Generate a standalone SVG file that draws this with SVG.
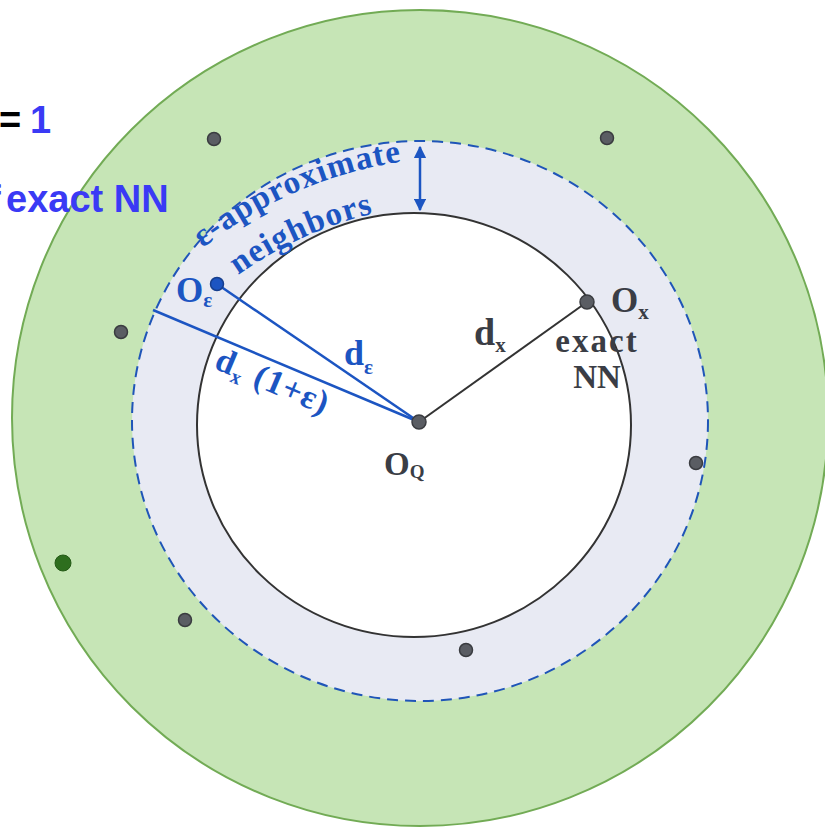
<svg xmlns="http://www.w3.org/2000/svg" width="825" height="827" viewBox="0 0 825 827">
<style>
.dot{fill:#5a5d63;stroke:#3a3c40;stroke-width:1.5}
.serif{font-family:"Liberation Serif","DejaVu Serif",serif;font-weight:bold}
.blue{fill:#1c55c2}
.gray{fill:#3a3d45}
.head{font-family:"Liberation Sans",Arial,sans-serif;font-weight:bold;font-size:38px}
</style>
<defs>
<marker id="ah" viewBox="0 0 10 10" refX="9" refY="5" markerWidth="5" markerHeight="5" orient="auto-start-reverse" markerUnits="strokeWidth">
<path d="M0,0 L10,5 L0,10 z" fill="#1c55c2"/>
</marker>
<path id="arc1" d="M 203 248 A 420 420 0 0 1 414 160"/>
<path id="arc2" d="M 238 275 A 400 400 0 0 1 388 210"/>
</defs>
<rect width="825" height="827" fill="#ffffff"/>
<g id="outer">
<circle cx="420" cy="418" r="408" fill="#c6e5b6" stroke="#72ab55" stroke-width="2"/>
</g>
<g id="band">
<ellipse cx="420" cy="421" rx="288" ry="280" fill="#e8eaf3" stroke="#1f55b8" stroke-width="2" stroke-dasharray="11,7"/>
</g>
<g id="inner">
<ellipse cx="414" cy="425" rx="217" ry="212" fill="#ffffff" stroke="#333333" stroke-width="2"/>
</g>
<g id="connectors">
<line x1="217" y1="284" x2="419" y2="422" stroke="#1c55c2" stroke-width="2.5"/>
<line x1="153" y1="310" x2="419" y2="422" stroke="#1c55c2" stroke-width="2.5"/>
<line x1="419" y1="422" x2="587" y2="302" stroke="#333333" stroke-width="2"/>
<line x1="420" y1="147" x2="420" y2="210" stroke="#1c55c2" stroke-width="2.5" marker-start="url(#ah)" marker-end="url(#ah)"/>
</g>
<g id="points">
<circle class="dot" cx="214" cy="139" r="6.5"/>
<circle class="dot" cx="607" cy="138" r="6.5"/>
<circle class="dot" cx="121" cy="332" r="6.5"/>
<circle class="dot" cx="696" cy="463" r="6.5"/>
<circle class="dot" cx="185" cy="620" r="6.5"/>
<circle class="dot" cx="466" cy="650" r="6.5"/>
<circle cx="63" cy="563" r="8" fill="#2e6e1e" stroke="#245a16" stroke-width="1"/>
</g>
<g id="node-oq">
<circle class="dot" cx="419" cy="422" r="7"/>
<text class="serif gray" x="384" y="475" font-size="33">O<tspan font-size="19" dy="3">Q</tspan></text>
</g>
<g id="node-ox">
<circle class="dot" cx="587" cy="302" r="7"/>
<text class="serif gray" x="611" y="312" font-size="35">O<tspan font-size="21" dy="7">x</tspan></text>
<text class="serif gray" x="597" y="352" font-size="33" letter-spacing="2" text-anchor="middle">exact</text>
<text class="serif gray" x="597" y="388" font-size="33" text-anchor="middle">NN</text>
</g>
<g id="node-oe">
<circle cx="217" cy="284" r="6.5" fill="#1c55c2" stroke="#163f8e" stroke-width="1.5"/>
<text class="serif blue" x="176" y="302" font-size="35">O<tspan font-size="21" dy="5">ε</tspan></text>
</g>
<g id="label-dx">
<text class="serif gray" x="474" y="345" font-size="38">d<tspan font-size="21" dy="7">x</tspan></text>
</g>
<g id="label-de">
<text class="serif blue" x="344" y="365" font-size="36">d<tspan font-size="21" dy="9">ε</tspan></text>
</g>
<g id="label-dx1e" transform="translate(213,368) rotate(23)">
<text class="serif blue" x="0" y="0" font-size="34" letter-spacing="1">d<tspan font-size="20" dy="6">x</tspan><tspan dy="-6" dx="11">(1+ε)</tspan></text>
</g>
<g id="label-eps">
<text class="serif blue" font-size="33" letter-spacing="1.2"><textPath href="#arc1">ε-approximate</textPath></text>
<text class="serif blue" font-size="33" letter-spacing="1.2"><textPath href="#arc2">neighbors</textPath></text>
</g>
<g id="header">
<text class="head" y="133"><tspan x="-1" fill="#000000">=</tspan><tspan x="30" fill="#3a3af5">1</tspan></text>
<text class="head" y="212" fill="#3a3af5"><tspan x="-12">f</tspan><tspan x="6">exact NN</tspan></text>
</g>
</svg>
